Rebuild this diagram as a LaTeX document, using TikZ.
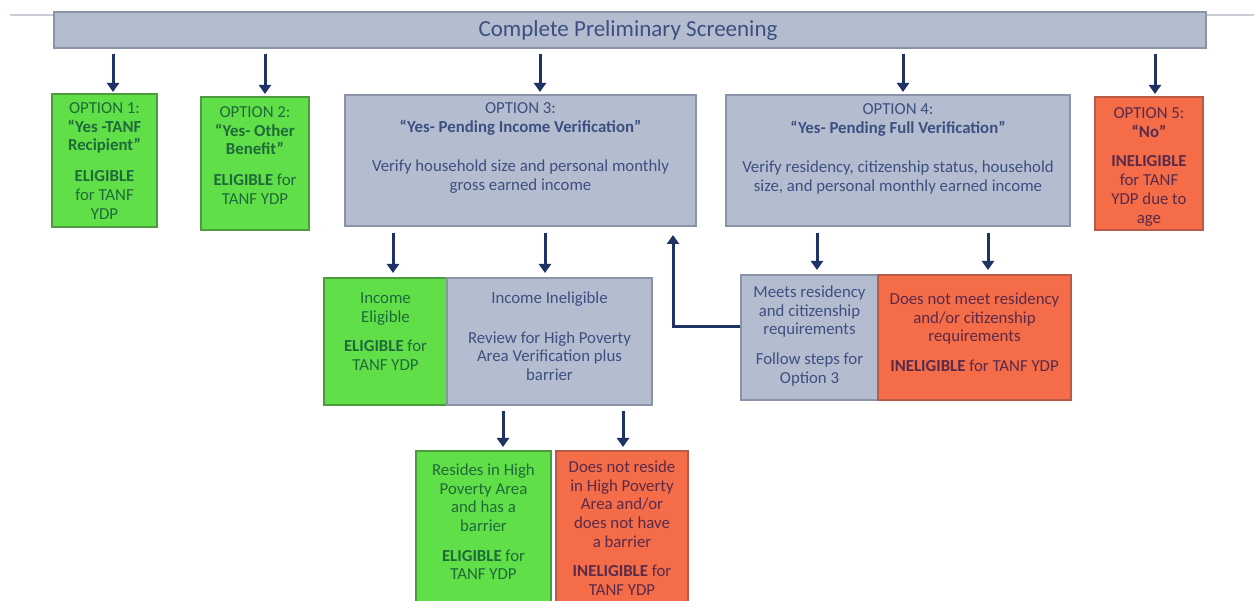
\documentclass[tikz,border=0pt]{standalone}
\usepackage{fontspec}
\setmainfont{Carlito}
\usetikzlibrary{arrows.meta}
\definecolor{grayfill}{HTML}{B4BDD0}
\definecolor{grayline}{HTML}{8A93A8}
\definecolor{greenfill}{HTML}{60DF48}
\definecolor{greenline}{HTML}{4E9A3E}
\definecolor{orangefill}{HTML}{F46C48}
\definecolor{orangeline}{HTML}{B85A45}
\definecolor{navy}{HTML}{1F3266}
\definecolor{graytext}{HTML}{3C4F80}
\definecolor{greentext}{HTML}{1F6A3A}
\definecolor{orangetext}{HTML}{5A2A4A}
\definecolor{rule}{HTML}{C8CCD4}
\tikzset{
  boxg/.style={draw=grayline, line width=1.2pt, fill=grayfill, inner sep=0pt},
  boxgr/.style={draw=greenline, line width=1.2pt, fill=greenfill, inner sep=0pt},
  boxor/.style={draw=orangeline, line width=1.2pt, fill=orangefill, inner sep=0pt},
  txt/.style={anchor=north, align=center, inner sep=0pt, font=\fontsize{16.8}{18.7}\selectfont},
  flow/.style={draw=navy, line width=3pt, -{Triangle[width=12pt,length=9pt]}},
}
\begin{document}
\begin{tikzpicture}[x=1pt,y=-1pt]
\useasboundingbox (0,0) rectangle (1254,601);
\fill[white] (0,0) rectangle (1254,601);
\clip (0,0) rectangle (1254,601);
% header rule
\draw[rule, line width=1.2pt] (10,15) -- (54,15);
\draw[rule, line width=1.2pt] (1206,15) -- (1254,15);
% top bar
\node[boxg, minimum width=1152pt, minimum height=36pt] (top) at (630,30) {};
\node[txt, anchor=center, text=graytext, font=\fontsize{23}{26}\selectfont] (toptxt) at (628,30) {Complete Preliminary Screening};
% options
\node[boxgr, minimum width=105pt, minimum height=133pt] (o1) at (104.5,160.5) {};
\node[boxgr, minimum width=108pt, minimum height=133pt] (o2) at (255,163.5) {};
\node[boxg, minimum width=351pt, minimum height=131pt] (o3) at (520.5,160.5) {};
\node[boxg, minimum width=344pt, minimum height=131pt] (o4) at (898,160.5) {};
\node[boxor, minimum width=108pt, minimum height=133pt] (o5) at (1149,163.5) {};
\node[txt, text=greentext] (o1t) at (104.5,102.5) {OPTION 1:\\\textbf{“Yes -TANF}\\\textbf{Recipient”}\\[12pt]\textbf{ELIGIBLE}\\for TANF\\YDP};
\node[txt, text=greentext] (o2t) at (255,106.5) {OPTION 2:\\\textbf{“Yes- Other}\\\textbf{Benefit”}\\[12pt]\textbf{ELIGIBLE} for\\TANF YDP};
\node[txt, text=graytext] (o3t) at (520.5,102.5) {OPTION 3:\\\textbf{“Yes- Pending Income Verification”}\\[21pt]Verify household size and personal monthly\\gross earned income};
\node[txt, text=graytext] (o4t) at (898,103.5) {OPTION 4:\\\textbf{“Yes- Pending Full Verification”}\\[21pt]Verify residency, citizenship status, household\\size, and personal monthly earned income};
\node[txt, text=orangetext] (o5t) at (1149,107.5) {OPTION 5:\\\textbf{“No”}\\[11pt]\textbf{INELIGIBLE}\\for TANF\\YDP due to\\age};
% second level
\node[boxgr, minimum width=123pt, minimum height=127pt] (ie) at (385.5,341.5) {};
\node[boxg, minimum width=205pt, minimum height=127pt] (ii) at (549.5,341.5) {};
\node[boxg, minimum width=137pt, minimum height=125pt] (mr) at (809.5,337.5) {};
\node[boxor, minimum width=193pt, minimum height=125pt] (dm) at (974.5,337.5) {};
\node[txt, text=greentext] (iet) at (385.5,292.5) {Income\\Eligible\\[11pt]\textbf{ELIGIBLE} for\\TANF YDP};
\node[txt, text=graytext] (iit) at (549.5,291.5) {Income Ineligible\\[21pt]Review for High Poverty\\Area Verification plus\\barrier};
\node[txt, text=graytext] (mrt) at (809.5,285.5) {Meets residency\\and citizenship\\requirements\\[11pt]Follow steps for\\Option 3};
\node[txt, text=orangetext] (dmt) at (974.5,292.5) {Does not meet residency\\and/or citizenship\\requirements\\[11pt]\textbf{INELIGIBLE} for TANF YDP};
% third level
\node[boxgr, minimum width=135pt, minimum height=170pt] (rh) at (483.5,536) {};
\node[boxor, minimum width=132pt, minimum height=170pt] (dr) at (622,536) {};
\node[txt, text=greentext] (rht) at (483.5,463.5) {Resides in High\\Poverty Area\\and has a\\barrier\\[11pt]\textbf{ELIGIBLE} for\\TANF YDP};
\node[txt, text=orangetext] (drt) at (622,460.5) {Does not reside\\in High Poverty\\Area and/or\\does not have\\a barrier\\[11pt]\textbf{INELIGIBLE} for\\TANF YDP};
% arrows from top bar
\draw[flow] (top.south -| 113,0) ++(0,5) -- (113,92);
\draw[flow] (top.south -| 265,0) ++(0,5) -- (265,94);
\draw[flow] (top.south -| 540,0) ++(0,5) -- (540,92);
\draw[flow] (top.south -| 903,0) ++(0,5) -- (903,92);
\draw[flow] (top.south -| 1155,0) ++(0,5) -- (1155,94);
% arrows from option 3
\draw[flow] (o3.south -| 393,0) ++(0,6) -- (393,273);
\draw[flow] (o3.south -| 545,0) ++(0,6) -- (545,273);
% arrows from option 4
\draw[flow] (o4.south -| 817,0) ++(0,6) -- (817,270);
\draw[flow] (o4.south -| 988,0) ++(0,6) -- (988,270);
% arrows from income ineligible
\draw[flow] (ii.south -| 503,0) ++(0,5) -- (503,447);
\draw[flow] (ii.south -| 623,0) ++(0,5) -- (623,447);
% feedback
\coordinate (fbtop) at (673,235);
\draw[flow] (mr.west |- 0,327) -- (673,327) -- (fbtop);
\end{tikzpicture}
\end{document}
